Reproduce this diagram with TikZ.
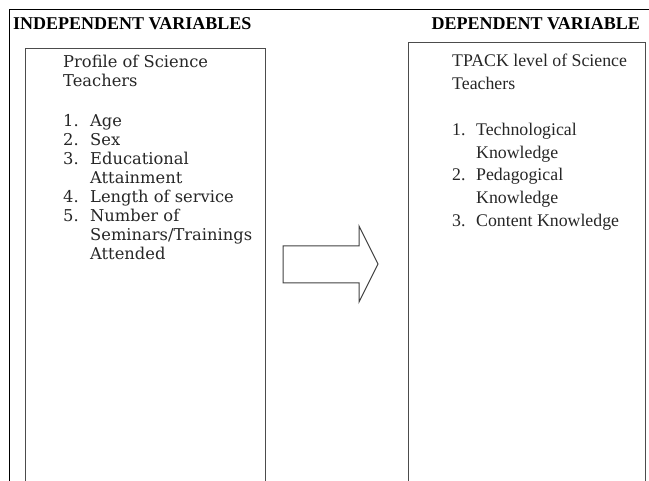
\documentclass[tikz,border=0pt]{standalone}
\usepackage{fontspec}
\setmainfont{Liberation Serif}
\newfontfamily\profilefont{DejaVu Serif}
\usetikzlibrary{positioning}
\tikzset{
  varbox/.style={draw=black!70, line width=1.2pt, anchor=north west, inner sep=0pt, minimum width=240pt, minimum height=440pt},
  varhead/.style={font=\fontsize{18}{20}\selectfont\bfseries, inner sep=0pt},
  vartext/.style={anchor=base west, inner sep=0pt, text=black!85},
  blockarrow/.style={draw=black!75, line width=1pt, line join=miter}
}

\begin{document}
\begin{tikzpicture}[x=1pt, y=-1pt]
\useasboundingbox (0,0) rectangle (649,481);
\clip (0,0) rectangle (649,481);
\draw[line width=1pt] (649,10) -- (9,10) -- (9,485);
\node[varhead, anchor=base west] (indephead) at (13,30) {INDEPENDENT VARIABLES};
\node[varhead, anchor=base east] (dephead) at (640,30) {DEPENDENT VARIABLE};
\node[varbox] (indep) at (25,48) {};
\node[varbox, minimum width=237pt] (dep) at (408,42) {};
\node[vartext] (indeptext) at (63,68) {\profilefont\fontsize{16.3}{19}\selectfont
  \begin{tabular}[t]{@{}p{27pt}@{}l@{}}
  \multicolumn{2}{@{}l@{}}{Profile of Science}\\
  \multicolumn{2}{@{}l@{}}{Teachers}\\[21pt]
  1. & Age\\
  2. & Sex\\
  3. & Educational\\
     & Attainment\\
  4. & Length of service\\
  5. & Number of\\
     & Seminars/Trainings\\
     & Attended
  \end{tabular}};
\node[vartext] (deptext) at (452,67) {\fontsize{17.8}{22.7}\selectfont
  \begin{tabular}[t]{@{}p{24pt}@{}l@{}}
  \multicolumn{2}{@{}l@{}}{TPACK level of Science}\\
  \multicolumn{2}{@{}l@{}}{Teachers}\\[23pt]
  1. & Technological\\
     & Knowledge\\
  2. & Pedagogical\\
     & Knowledge\\
  3. & Content Knowledge
  \end{tabular}};
\draw[blockarrow] (283,246) -- (359,246) -- (359,226) -- (378,264) -- (359,302) -- (359,283) -- (283,283) -- cycle;
\end{tikzpicture}
\end{document}
